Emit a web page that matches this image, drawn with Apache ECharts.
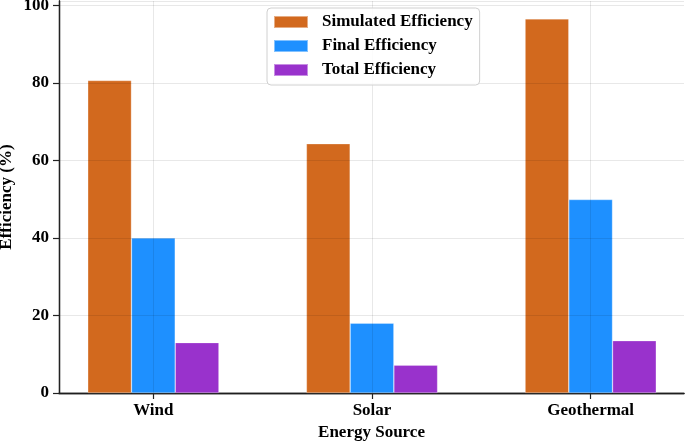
<!DOCTYPE html>
<html>
<head>
<meta charset="utf-8">
<script src="https://cdn.jsdelivr.net/npm/echarts@6/dist/echarts.min.js"></script>
<style>
html,body{margin:0;padding:0;background:#fff;}
#chart{width:685px;height:442px;}
</style>
</head>
<body>
<div id="chart"></div>
<script>
const categories = ['Wind', 'Solar', 'Geothermal'];
const seriesNames = ['Simulated Efficiency', 'Final Efficiency', 'Total Efficiency'];
const simulated = [80.6, 64.3, 96.5];
const finalEff = [40.0, 18.0, 49.9];
const totalEff = [13.0, 7.2, 13.5];
const yTicks = [0, 20, 40, 60, 80, 100];
const colors = ['#D2691E', '#1E90FF', '#9932CC'];

const FONT = "'Liberation Serif', 'Times New Roman', serif";
const AX = '#222';
const GRIDC = 'rgba(0,0,0,0.09)';
const YMAX = 101.1;

const chart = echarts.init(document.getElementById('chart'), null, {renderer: 'canvas'});

const values = [simulated, finalEff, totalEff];
const series = values.map((v, i) => ({
  name: seriesNames[i],
  type: 'bar',
  xAxisIndex: 0,
  yAxisIndex: 0,
  data: v,
  barWidth: '20%',
  barGap: '0%',
  itemStyle: {color: colors[i], borderColor: 'rgba(255,255,255,0.45)', borderWidth: 0.6},
  z: 2
}));
// vertical grid lines at category centers (middle series is centered on each category)
series[1].markLine = {
  silent: true,
  symbol: 'none',
  label: {show: false},
  lineStyle: {color: GRIDC, type: 'solid', width: 1},
  data: categories.map(c => ({xAxis: c})),
  z: 4
};

chart.setOption({
  animation: false,
  backgroundColor: '#fff',
  grid: [
    {left: 44, right: -15, top: 1, bottom: 49, containLabel: false, outerBoundsMode: 'none'},
    {left: 59, right: 1, top: 1, bottom: 49, containLabel: false, outerBoundsMode: 'none'}
  ],
  legend: {
    data: seriesNames,
    orient: 'vertical',
    left: 267,
    top: 8,
    padding: [4, 7, 5, 6],
    itemWidth: 34,
    itemHeight: 12,
    itemGap: 4,
    icon: 'rect',
    borderColor: '#d0d0d0',
    borderWidth: 1,
    borderRadius: 4,
    backgroundColor: 'rgba(255,255,255,0.85)',
    textStyle: {fontFamily: FONT, fontWeight: 'bold', fontSize: 17, color: '#000', lineHeight: 20, padding: [0, 0, 0, 9]},
    z: 10
  },
  xAxis: [
    {
      type: 'category', gridIndex: 0, data: categories, boundaryGap: true,
      axisLine: {show: false},
      axisTick: {show: true, alignWithLabel: true, length: 6, lineStyle: {color: AX, width: 1.2}},
      axisLabel: {fontFamily: FONT, fontWeight: 'bold', fontSize: 17, color: '#000', margin: 9},
      splitLine: {show: false}
    },
    {
      type: 'value', gridIndex: 1, min: 0, max: 1, position: 'bottom',
      axisLine: {show: true, lineStyle: {color: AX, width: 1.3}},
      axisTick: {show: false}, axisLabel: {show: false}, splitLine: {show: false},
      name: 'Energy Source', nameLocation: 'middle', nameGap: 31, nameMoveOverlap: false,
      nameTextStyle: {fontFamily: FONT, fontWeight: 'bold', fontSize: 17, color: '#000'}
    },
    {
      type: 'value', gridIndex: 1, min: 0, max: 1, position: 'top',
      axisLine: {show: true, lineStyle: {color: AX, width: 1.3}},
      axisTick: {show: false}, axisLabel: {show: false}, splitLine: {show: false}
    }
  ],
  yAxis: [
    {
      type: 'value', gridIndex: 0, min: 0, max: YMAX,
      axisLine: {show: false}, axisTick: {show: false}, axisLabel: {show: false}, splitLine: {show: false}
    },
    {
      type: 'value', gridIndex: 1, min: 0, max: YMAX, interval: 20, position: 'left', z: 5,
      axisLine: {show: true, lineStyle: {color: AX, width: 1.3}},
      axisTick: {show: true, length: 6, lineStyle: {color: AX, width: 1.2}},
      axisLabel: {
        fontFamily: FONT, fontWeight: 'bold', fontSize: 17, color: '#000', margin: 10,
        showMaxLabel: false,
        formatter: v => (yTicks.indexOf(Math.round(v * 1000) / 1000) >= 0 ? String(v) : '')
      },
      splitLine: {show: true, lineStyle: {color: GRIDC, width: 1}},
      name: 'Efficiency (%)', nameLocation: 'middle', nameGap: 44, nameRotate: 90, nameMoveOverlap: false,
      nameTextStyle: {fontFamily: FONT, fontWeight: 'bold', fontSize: 17, color: '#000'}
    },
    {
      type: 'value', gridIndex: 1, min: 0, max: YMAX, position: 'right',
      axisLine: {show: true, lineStyle: {color: AX, width: 1.3}},
      axisTick: {show: false}, axisLabel: {show: false}, splitLine: {show: false}
    }
  ],
  series: series
});
</script>
</body>
</html>
